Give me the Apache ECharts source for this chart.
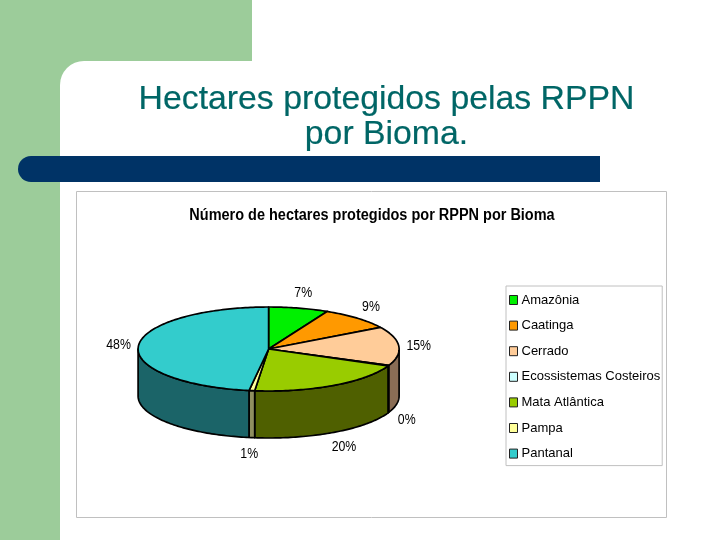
<!DOCTYPE html>
<html>
<head>
<meta charset="utf-8">
<style>html,body{margin:0;padding:0;background:#fff}#c{width:720px;height:540px}</style>
<script src="https://cdn.jsdelivr.net/npm/echarts@6/dist/echarts.min.js"></script>
</head>
<body>
<div id="c"></div>
<script>
var categories = ['Amazônia','Caatinga','Cerrado','Ecossistemas Costeiros','Mata Atlântica','Pampa','Pantanal'];
var shares = [7.4, 9, 15, 0.2, 20.1, 0.7, 47.6];
var topColors = ['#00f000','#ff9900','#ffcc99','#ccffff','#99cc00','#ffff99','#33cccc'];
var sideColors = ['#007800','#804c00','#8a6d55','#668080','#4f6000','#8f8f60','#1b6468'];
var slideTitle = 'Hectares protegidos pelas RPPN\npor Bioma.';
var chartTitle = 'Número de hectares protegidos por RPPN por Bioma';

var total = shares.reduce(function (a, b) { return a + b; }, 0);
var PIE = { cx: 268.6, cy: 349, rx: 130.5, ry: 42, depth: 47 };

function pt(t, drop) {
  return [PIE.cx + PIE.rx * Math.sin(t), PIE.cy - PIE.ry * Math.cos(t) + (drop || 0)];
}
function arc(a, b, drop) {
  var pts = [], n = Math.max(2, Math.ceil(Math.abs(b - a) / 0.02));
  for (var i = 0; i <= n; i++) pts.push(pt(a + (b - a) * i / n, drop));
  return pts;
}
function renderSlice(params, api) {
  var idx = params.seriesIndex, before = 0;
  for (var i = 0; i < idx; i++) before += shares[i];
  var a = before / total * 2 * Math.PI;
  var b = (before + api.value(0)) / total * 2 * Math.PI;
  var children = [];
  var stroke = { stroke: '#000', lineWidth: 1.7, lineJoin: 'round' };
  var wa = Math.max(a, Math.PI / 2), wb = Math.min(b, 1.5 * Math.PI);
  if (wb > wa) {
    children.push({
      type: 'polygon',
      shape: { points: arc(wa, wb, 0).concat(arc(wb, wa, PIE.depth)) },
      style: Object.assign({ fill: sideColors[idx] }, stroke)
    });
  }
  if (b > a) {
    children.push({
      type: 'polygon',
      shape: { points: [[PIE.cx, PIE.cy]].concat(arc(a, b, 0)) },
      style: Object.assign({ fill: topColors[idx] }, stroke)
    });
  }
  var m = (a + b) / 2;
  var c = Math.cos(m), s = Math.sin(m);
  children.push({
    type: 'text',
    x: PIE.cx + (PIE.rx + 20) * s,
    y: PIE.cy - (PIE.ry + 16) * c + (c < 0 ? PIE.depth : 0) + 1,
    scaleX: 0.88,
    style: {
      text: Math.round(api.value(0)) + '%',
      x: 0, y: 0,
      align: 'center', verticalAlign: 'middle',
      font: '14px "Liberation Sans"', fill: '#000'
    }
  });
  return { type: 'group', children: children };
}

var chart = echarts.init(document.getElementById('c'), null, { renderer: 'canvas' });
chart.setOption({
  animation: false,
  backgroundColor: '#ffffff',
  title: [
    { text: slideTitle, left: 381.5, top: 77, textAlign: 'center',
      textStyle: { fontFamily: 'Liberation Sans', fontSize: 33.8, fontWeight: 'normal', color: '#006666', lineHeight: 35,
                   textBorderColor: '#006666', textBorderWidth: 0.2 } }
  ],
  legend: {
    left: 506, top: 286, orient: 'vertical',
    data: categories,
    icon: 'rect', itemWidth: 8, itemHeight: 9, itemGap: 11.6,
    padding: [7, 2, 5, 3],
    backgroundColor: '#fff', borderColor: '#c0c0c0', borderWidth: 1,
    selectedMode: false,
    itemStyle: { borderColor: '#222', borderWidth: 1 },
    textStyle: { fontFamily: 'Liberation Sans', fontSize: 13, lineHeight: 14, color: '#000', padding: [0, 0, 0, -1] }
  },
  graphic: [
    { type: 'rect', shape: { x: 0, y: 0, width: 252, height: 120 }, style: { fill: '#9ccc9a' }, silent: true },
    { type: 'rect', shape: { x: 0, y: 0, width: 60, height: 540 }, style: { fill: '#9ccc9a' }, silent: true },
    { type: 'rect', shape: { x: 60, y: 61, width: 660, height: 479, r: [24, 0, 0, 0] }, style: { fill: '#fff' }, silent: true },
    { type: 'rect', shape: { x: 18, y: 156, width: 582, height: 26, r: [13, 0, 0, 13] }, style: { fill: '#003366' }, silent: true },
    { type: 'rect', shape: { x: 76.5, y: 191.5, width: 590, height: 326 }, style: { fill: '#fff', stroke: '#c0c0c0', lineWidth: 1 }, silent: true },
    { type: 'text', x: 372, y: 215.5, scaleX: 0.905, z: 3, silent: true,
      style: { text: chartTitle, x: 0, y: 0, align: 'center', verticalAlign: 'middle',
               font: 'bold 16px "Liberation Sans"', fill: '#000' } }
  ],
  series: categories.map(function (name, i) {
    return {
      type: 'custom', name: name, coordinateSystem: 'none', silent: true,
      itemStyle: { color: topColors[i] },
      renderItem: renderSlice,
      data: [[shares[i]]]
    };
  })
});
</script>
</body>
</html>
